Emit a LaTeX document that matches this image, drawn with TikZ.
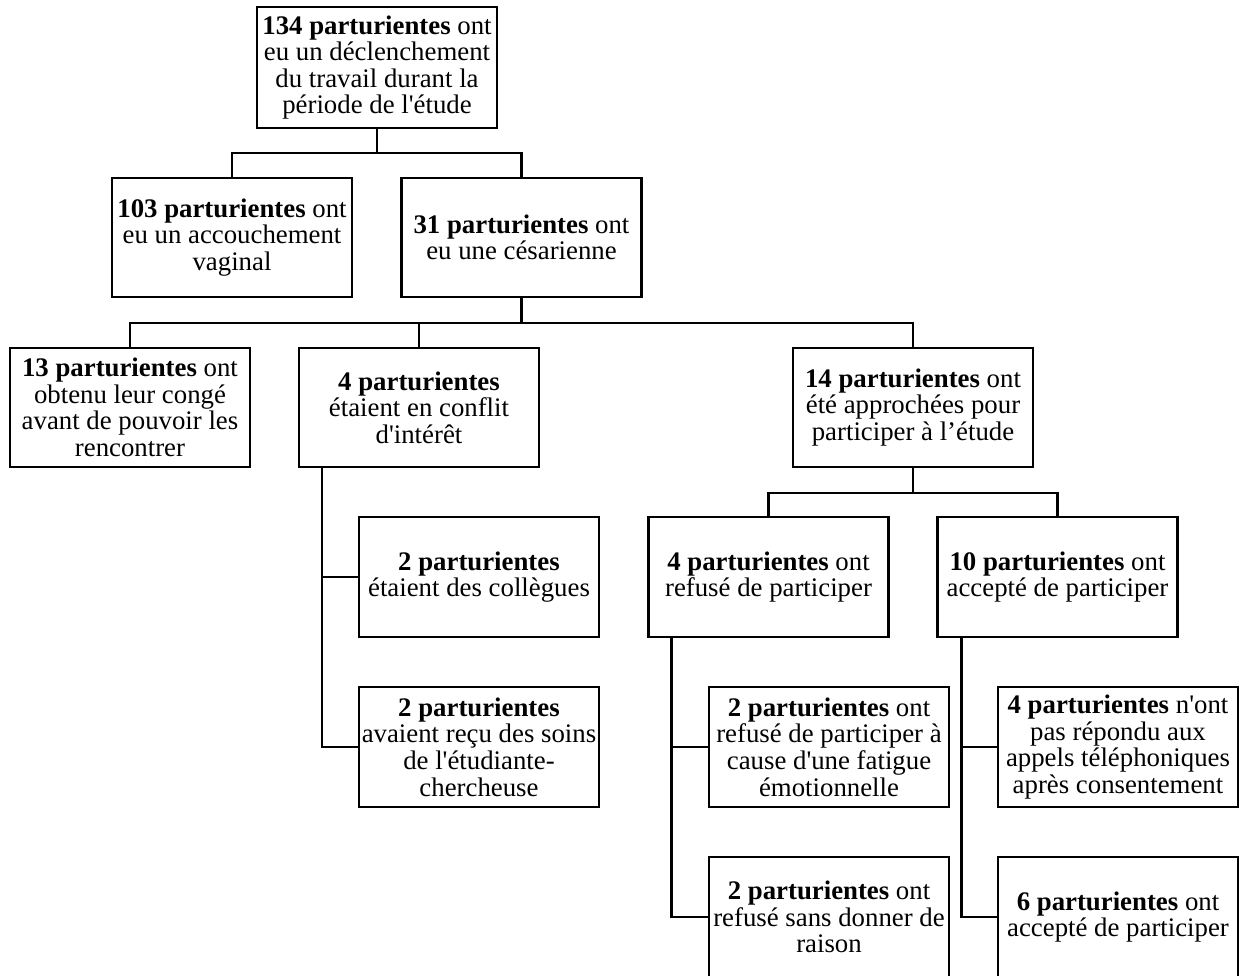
\documentclass[tikz,border=0pt]{standalone}
\usepackage{fontspec}
\setmainfont{Liberation Serif}[Ligatures=TeXOff]
\begin{document}
\begin{tikzpicture}[x=1pt,y=-1pt,
  box/.style={draw=black, line width=2.5pt, fill=white, align=center,
    minimum width=240pt, minimum height=120pt, inner sep=2pt,
    font=\fontsize{26.8pt}{26.6pt}\selectfont},
  link/.style={draw=black, line width=2.5pt}]
\useasboundingbox (0,0) rectangle (1249,975);
\clip (0,0) rectangle (1249,975);
% level 0
\node[box, minimum height=121pt] (top) at (377,67.5) {\textbf{134 parturientes} ont\\eu un déclenchement\\du travail durant la\\période de l'étude};
% level 1
\node[box, minimum height=119pt] (vag) at (232,237.5) {\textbf{103 parturientes} ont\\eu un accouchement\\vaginal};
\node[box, minimum height=119pt] (ces) at (521.5,237.5) {\textbf{31 parturientes} ont\\eu une césarienne};
% level 2
\node[box, minimum height=119pt] (conge) at (130,407.5) {\textbf{13 parturientes} ont\\obtenu leur congé\\avant de pouvoir les\\rencontrer};
\node[box, minimum height=119pt] (conflit) at (419,407.5) {\textbf{4 parturientes}\\étaient en conflit\\d'intérêt};
\node[box, minimum height=119pt] (appr) at (913,407.5) {\textbf{14 parturientes} ont\\été approchées pour\\participer à l’étude};
% level 3
\node[box] (coll) at (479,577) {\textbf{2 parturientes}\\étaient des collègues};
\node[box] (refus) at (768.5,577) {\textbf{4 parturientes} ont\\refusé de participer};
\node[box] (accept) at (1057.5,577) {\textbf{10 parturientes} ont\\accepté de participer};
% level 4
\node[box] (soins) at (479,747) {\textbf{2 parturientes}\\avaient reçu des soins\\de l'étudiante-\\chercheuse};
\node[box] (fatigue) at (829,747) {\textbf{2 parturientes} ont\\refusé de participer à\\cause d'une fatigue\\émotionnelle};
\node[box] (norep) at (1118,747) {\textbf{4 parturientes} n'ont\\pas répondu aux\\appels téléphoniques\\après consentement};
% level 5
\node[box] (sans) at (829,917) {\textbf{2 parturientes} ont\\refusé sans donner de\\raison};
\node[box] (six) at (1118,917) {\textbf{6 parturientes} ont\\accepté de participer};
% junctions
\coordinate (j1) at (377,153);
\coordinate (j2) at (521.5,323);
\coordinate (j3) at (913,493);
\coordinate (t4) at ([xshift=24pt]conflit.south west);
\coordinate (tr) at ([xshift=24pt]refus.south west);
\coordinate (ta) at ([xshift=25pt]accept.south west);
% connectors
\draw[link] (top.south) -- (j1);
\draw[link] (vag.north) |- (j1) -| (ces.north);
\draw[link] (ces.south) -- (j2);
\draw[link] (conge.north) |- (j2) -| (appr.north);
\draw[link] (conflit.north) -- (conflit.north |- j2);
\draw[link] (appr.south) -- (j3);
\draw[link] (refus.north) |- (j3) -| (accept.north);
\draw[link] (t4) |- (coll.west);
\draw[link] (t4) |- (soins.west);
\draw[link] (tr) |- (fatigue.west);
\draw[link] (tr) |- (sans.west);
\draw[link] (ta) |- (norep.west);
\draw[link] (ta) |- (six.west);
\end{tikzpicture}
\end{document}
